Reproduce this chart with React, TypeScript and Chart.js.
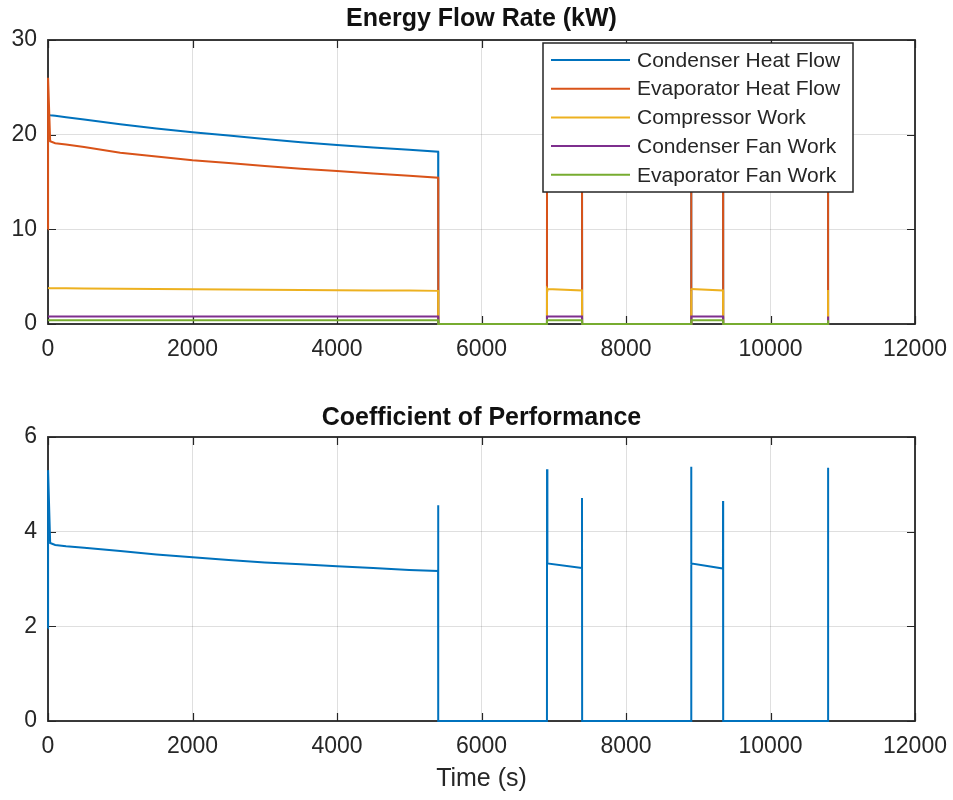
import React, { useEffect, useRef } from 'react';
import { Chart, registerables } from 'chart.js';

Chart.register(...registerables);

const FONT = '"Liberation Sans", Arial, Helvetica, sans-serif';
const AX = '#262626';
const GRID = 'rgba(38,38,38,0.15)';

// ---------- data ----------
const xTicks = [0, 2000, 4000, 6000, 8000, 10000, 12000];
const flowTicks = [0, 10, 20, 30];
const copTicks = [0, 2, 4, 6];

const flowTime = [0, 1, 30, 100, 250, 500, 1000, 1500, 2000, 2500, 3000, 3500, 4000, 4500, 5000, 5400, 5402, 6906, 6907, 6912, 7391, 7393, 8900, 8901, 8906, 9343, 9345, 10796, 10797];
const condenserHeat = [22.1, 22.1, 22.05, 22.0, 21.85, 21.6, 21.1, 20.65, 20.25, 19.9, 19.55, 19.2, 18.9, 18.65, 18.4, 18.2, 0, 0, 21.4, 20.4, 19.9, 0, 0, 21.4, 20.4, 19.9, 0, 0, 21.4];
const evaporatorHeat = [10.0, 26.0, 19.3, 19.1, 18.95, 18.7, 18.1, 17.7, 17.3, 17.0, 16.7, 16.4, 16.15, 15.9, 15.65, 15.45, 0, 0, 26.0, 17.9, 17.2, 0, 0, 26.0, 17.9, 17.2, 0, 0, 26.0];
const compressorWork = [3.8, 3.8, 3.78, 3.78, 3.77, 3.75, 3.72, 3.7, 3.67, 3.65, 3.62, 3.6, 3.57, 3.55, 3.53, 3.5, 0, 0, 3.75, 3.7, 3.55, 0, 0, 3.75, 3.7, 3.55, 0, 0, 3.6];
const condenserFan = [0.8, 0.8, 0.8, 0.8, 0.8, 0.8, 0.8, 0.8, 0.8, 0.8, 0.8, 0.8, 0.8, 0.8, 0.8, 0.8, 0, 0, 0.8, 0.8, 0.8, 0, 0, 0.8, 0.8, 0.8, 0, 0, 0.8];
const evaporatorFan = [0.4, 0.4, 0.4, 0.4, 0.4, 0.4, 0.4, 0.4, 0.4, 0.4, 0.4, 0.4, 0.4, 0.4, 0.4, 0.4, 0, 0, 0.4, 0.4, 0.4, 0, 0, 0.4, 0.4, 0.4, 0, 0, 0.4];

const copTime = [0, 1, 30, 100, 250, 500, 1000, 1500, 2000, 2500, 3000, 3500, 4000, 4500, 5000, 5399, 5400, 5402, 6906, 6907, 6912, 7390, 7391, 7393, 8900, 8901, 8906, 9342, 9343, 9345, 10796, 10797, 10798];
const cop = [1.96, 5.3, 3.76, 3.72, 3.69, 3.66, 3.59, 3.52, 3.46, 3.4, 3.35, 3.31, 3.27, 3.23, 3.19, 3.17, 4.56, 0, 0, 5.32, 3.33, 3.23, 4.71, 0, 0, 5.37, 3.33, 3.22, 4.65, 0, 0, 5.35, 3.45];

const seriesNames = ['Condenser Heat Flow', 'Evaporator Heat Flow', 'Compressor Work', 'Condenser Fan Work', 'Evaporator Fan Work'];
const seriesColors = ['#0072BD', '#D95319', '#EDB120', '#7E2F8E', '#77AC30'];
const flowSeries = [condenserHeat, evaporatorHeat, compressorWork, condenserFan, evaporatorFan];

const toPoints = (xs: number[], ys: number[]) => xs.map((x, i) => ({ x, y: ys[i] }));

// ---------- decoration plugin (MATLAB look) ----------
const decor = {
  id: 'matlabDecor',
  beforeDatasetsDraw(chart: any) {
    const { ctx } = chart;
    const { left, right, top, bottom } = chart.chartArea;
    const xs = chart.scales.x;
    const ys = chart.scales.y;
    ctx.save();
    ctx.strokeStyle = AX;
    ctx.lineWidth = 1.2;
    const tl = 8;
    xs.ticks.forEach((t: any) => {
      const px = Math.round(xs.getPixelForValue(t.value)) + 0.5;
      ctx.beginPath();
      ctx.moveTo(px, bottom); ctx.lineTo(px, bottom - tl);
      ctx.moveTo(px, top); ctx.lineTo(px, top + tl);
      ctx.stroke();
    });
    ys.ticks.forEach((t: any) => {
      const py = Math.round(ys.getPixelForValue(t.value)) + 0.5;
      ctx.beginPath();
      ctx.moveTo(left, py); ctx.lineTo(left + tl, py);
      ctx.moveTo(right, py); ctx.lineTo(right - tl, py);
      ctx.stroke();
    });
    ctx.lineWidth = 1.8;
    ctx.strokeRect(left, top, right - left, bottom - top);
    ctx.restore();
  },
  afterDraw(chart: any, _args: any, opts: any) {
    const { ctx } = chart;
    const { left, right, top, bottom } = chart.chartArea;
    ctx.save();
    ctx.fillStyle = '#111';
    ctx.font = `bold 25px ${FONT}`;
    ctx.textAlign = 'center';
    ctx.textBaseline = 'middle';
    ctx.fillText(opts.title, (left + right) / 2, top + opts.titleDy);
    if (opts.xLabel) {
      ctx.fillStyle = AX;
      ctx.font = `25px ${FONT}`;
      ctx.fillText(opts.xLabel, (left + right) / 2, bottom + opts.xLabelDy);
    }
    if (opts.legend) {
      const bx = 543, by = 43, bw = 310, bh = 149;
      ctx.fillStyle = '#fff';
      ctx.fillRect(bx, by, bw, bh);
      ctx.strokeStyle = AX;
      ctx.lineWidth = 1.5;
      ctx.strokeRect(bx, by, bw, bh);
      ctx.font = `21px ${FONT}`;
      ctx.textAlign = 'left';
      ctx.textBaseline = 'middle';
      seriesNames.forEach((name, i) => {
        const y = by + 17 + i * 28.7;
        ctx.strokeStyle = seriesColors[i];
        ctx.lineWidth = 2;
        ctx.beginPath();
        ctx.moveTo(bx + 8, y); ctx.lineTo(bx + 87, y);
        ctx.stroke();
        ctx.fillStyle = AX;
        ctx.fillText(name, bx + 94, y + 1);
      });
    }
    ctx.restore();
  },
};

function makeScales(yTicks: number[], xHeight: number) {
  return {
    x: {
      type: 'linear',
      min: 0,
      max: 12000,
      afterBuildTicks: (s: any) => { s.ticks = xTicks.map((v) => ({ value: v })); },
      afterFit: (s: any) => { s.height = xHeight; s.paddingLeft = 0; s.paddingRight = 0; },
      grid: { color: GRID, lineWidth: 1, drawTicks: false },
      border: { display: false },
      ticks: { color: AX, font: { family: FONT, size: 23 }, padding: 12, maxRotation: 0, autoSkip: false, callback: (v: any) => String(v) },
    },
    y: {
      type: 'linear',
      min: yTicks[0],
      max: yTicks[yTicks.length - 1],
      afterBuildTicks: (s: any) => { s.ticks = yTicks.map((v) => ({ value: v })); },
      afterFit: (s: any) => { s.width = 48; s.paddingTop = 0; s.paddingBottom = 0; },
      grid: { color: GRID, lineWidth: 1, drawTicks: false },
      border: { display: false },
      ticks: { color: AX, font: { family: FONT, size: 23 }, padding: 11, callback: (v: any) => String(v) },
    },
  };
}

function FlowChart() {
  const ref = useRef<HTMLCanvasElement>(null);
  useEffect(() => {
    const chart = new Chart(ref.current as HTMLCanvasElement, {
      type: 'line',
      data: {
        datasets: flowSeries.map((arr, i) => ({
          label: seriesNames[i],
          data: toPoints(flowTime, arr),
          borderColor: seriesColors[i],
          backgroundColor: seriesColors[i],
          borderWidth: 2,
          pointRadius: 0,
          tension: 0,
          clip: 2,
          order: flowSeries.length - i,
        })),
      },
      options: {
        responsive: false,
        animation: false,
        layout: { padding: { top: 40, right: 38, left: 0, bottom: 0 } },
        scales: makeScales(flowTicks, 76) as any,
        plugins: {
          legend: { display: false },
          tooltip: { enabled: false },
          matlabDecor: { title: 'Energy Flow Rate (kW)', titleDy: -21, legend: true },
        } as any,
      },
      plugins: [decor],
    });
    return () => chart.destroy();
  }, []);
  return <canvas ref={ref} width={953} height={400} style={{ position: 'absolute', left: 0, top: 0 }} />;
}

function CopChart() {
  const ref = useRef<HTMLCanvasElement>(null);
  useEffect(() => {
    const chart = new Chart(ref.current as HTMLCanvasElement, {
      type: 'line',
      data: {
        datasets: [{
          label: 'COP',
          data: toPoints(copTime, cop),
          borderColor: seriesColors[0],
          backgroundColor: seriesColors[0],
          borderWidth: 2,
          pointRadius: 0,
          tension: 0,
          clip: 2,
        }],
      },
      options: {
        responsive: false,
        animation: false,
        layout: { padding: { top: 37, right: 38, left: 0, bottom: 0 } },
        scales: makeScales(copTicks, 79) as any,
        plugins: {
          legend: { display: false },
          tooltip: { enabled: false },
          matlabDecor: { title: 'Coefficient of Performance', titleDy: -19, xLabel: 'Time (s)', xLabelDy: 58, legend: false },
        } as any,
      },
      plugins: [decor],
    });
    return () => chart.destroy();
  }, []);
  return <canvas ref={ref} width={953} height={400} style={{ position: 'absolute', left: 0, top: 400 }} />;
}

export default function App() {
  return (
    <div style={{ position: 'absolute', left: 0, top: 0, width: 953, height: 800, background: '#fff' }}>
      <FlowChart />
      <CopChart />
    </div>
  );
}
